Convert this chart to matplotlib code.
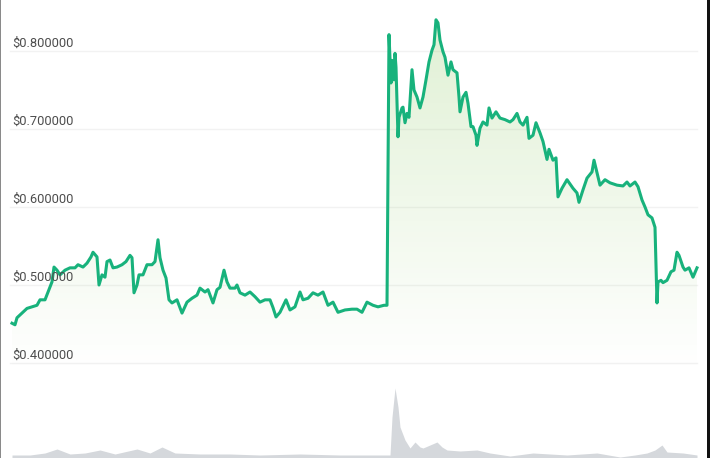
import numpy as np
import matplotlib
matplotlib.use("Agg")
import matplotlib.pyplot as plt
from matplotlib.patches import Polygon, Rectangle

# price series (t = time index, price in USD)
t = [0, 3, 5, 10, 15, 20, 25, 28, 33, 36, 40, 42, 45, 48, 53, 58, 63, 66, 71, 75,
     79, 81, 85, 87, 90, 93, 95, 98, 101, 105, 110, 114, 118, 120, 122, 125, 127, 131,
     135, 140, 143, 146, 148, 151, 154, 157, 160, 165, 170, 175, 180, 185, 188, 193,
     196, 201, 205, 208, 212, 215, 218, 223, 225, 228, 233, 238, 243, 248, 253, 258,
     261, 264, 268, 274, 278, 283, 288, 291, 296, 301, 306, 311, 316, 321, 326, 333,
     340, 345, 350, 355, 361, 366, 372, 375, 377, 379, 380, 382, 383, 384, 386, 387,
     390, 391, 393, 395, 397, 400, 402, 405, 408, 411, 414, 417, 420, 422, 424, 426,
     428, 431, 433, 436, 439, 441, 445, 447, 448, 451, 454, 456, 459, 461, 464, 465,
     468, 471, 475, 477, 480, 484, 488, 493, 498, 501, 505, 508, 511, 515, 517, 521,
     524, 528, 531, 535, 537, 541, 544, 546, 550, 555, 561, 565, 567, 571, 575, 580,
     582, 585, 588, 593, 598, 605, 611, 615, 618, 623, 626, 630, 633, 636, 640, 643,
     644, 645, 646, 649, 651, 655, 659, 662, 665, 667, 671, 673, 677, 681, 685]
price = [0.451, 0.449, 0.458, 0.464, 0.470, 0.472, 0.474, 0.481, 0.481, 0.491, 0.504,
         0.523, 0.519, 0.513, 0.519, 0.522, 0.522, 0.526, 0.523, 0.528, 0.536, 0.542,
         0.536, 0.500, 0.513, 0.510, 0.530, 0.532, 0.522, 0.523, 0.526, 0.530, 0.538,
         0.535, 0.490, 0.500, 0.513, 0.513, 0.526, 0.526, 0.530, 0.558, 0.535, 0.519,
         0.509, 0.481, 0.477, 0.481, 0.464, 0.478, 0.483, 0.487, 0.496, 0.491, 0.494,
         0.477, 0.494, 0.497, 0.519, 0.504, 0.496, 0.496, 0.500, 0.490, 0.487, 0.491,
         0.485, 0.478, 0.481, 0.481, 0.471, 0.459, 0.465, 0.481, 0.468, 0.472, 0.491,
         0.481, 0.483, 0.490, 0.487, 0.491, 0.474, 0.478, 0.465, 0.468, 0.469, 0.469,
         0.465, 0.478, 0.474, 0.472, 0.474, 0.474, 0.821, 0.759, 0.788, 0.763, 0.797,
         0.779, 0.690, 0.715, 0.727, 0.728, 0.708, 0.720, 0.715, 0.776, 0.750, 0.741,
         0.727, 0.741, 0.763, 0.786, 0.801, 0.808, 0.840, 0.836, 0.814, 0.799, 0.792,
         0.769, 0.786, 0.776, 0.772, 0.741, 0.722, 0.741, 0.747, 0.733, 0.703, 0.703,
         0.692, 0.679, 0.701, 0.709, 0.705, 0.727, 0.714, 0.722, 0.714, 0.712, 0.709,
         0.712, 0.720, 0.709, 0.705, 0.715, 0.688, 0.692, 0.708, 0.695, 0.684, 0.661,
         0.674, 0.660, 0.663, 0.613, 0.624, 0.635, 0.624, 0.618, 0.606, 0.622, 0.637,
         0.645, 0.660, 0.644, 0.628, 0.635, 0.631, 0.628, 0.627, 0.632, 0.627, 0.632,
         0.626, 0.609, 0.600, 0.590, 0.586, 0.574, 0.523, 0.477, 0.504, 0.506, 0.503,
         0.506, 0.517, 0.519, 0.542, 0.538, 0.523, 0.519, 0.522, 0.510, 0.522]

# trading volume (relative units)
vol_t = [0, 18, 33, 45, 58, 73, 88, 103, 125, 138, 150, 163, 188, 218, 248, 288, 328,
         358, 374, 378, 380, 383, 386, 388, 393, 398, 403, 408, 411, 418, 425, 430, 435,
         448, 465, 478, 498, 521, 538, 555, 585, 608, 623, 635, 643, 650, 655, 671, 685]
volume = [2, 2, 4, 8, 3, 4, 7, 3, 8, 4, 10, 4, 3, 3, 2, 3, 2, 2, 2, 2, 40, 69, 50, 30,
          17, 9, 15, 10, 9, 12, 15, 10, 7, 6, 7, 4, 1, 4, 3, 2, 4, 0, 2, 4, 7, 12, 5,
          4, 2]

yticks = [0.4, 0.5, 0.6, 0.7, 0.8]
ytick_labels = ["$0.400000", "$0.500000", "$0.600000", "$0.700000", "$0.800000"]

green = "#18b27c"
W, H = 710, 458

fig = plt.figure(figsize=(W / 100, H / 100), dpi=100)
fig.patch.set_facecolor("white")

# volume axes at bottom
axv = fig.add_axes([0, 0, 1, 100 / H])
axv.set_xlim(-12, 698)
axv.set_ylim(-1, 99)
axv.fill_between(vol_t, volume, -1, color="#d5d8dc", lw=0)
axv.axis("off")

# price axes
ax = fig.add_axes([0, 0, 1, 1])
ax.patch.set_alpha(0)
ax.set_xlim(-12, 698)
ax.set_ylim(0.8 - (H - 51) / 780, 0.8 + 51 / 780)
ax.axis("off")

for v, lab in zip(yticks, ytick_labels):
    ax.axhline(v, xmin=10 / W, xmax=697 / W, color="#f2f2f2", lw=1, zorder=1)
    ax.text(0, v + 0.0012, lab, fontsize=9.3, color="#4d4d4d", family="Roboto",
            ha="left", va="bottom", zorder=5)

# gradient fill under the line
base = 0.39
top = 0.845
grad = np.zeros((256, 1, 4))
grad[:, 0, 0] = 0.55
grad[:, 0, 1] = 0.79
grad[:, 0, 2] = 0.38
grad[:, 0, 3] = np.linspace(0.27, 0.0, 256)
im = ax.imshow(grad, aspect="auto", extent=(t[0], t[-1], base, top),
               origin="upper", zorder=2, interpolation="bilinear")
verts = [(t[0], base)] + list(zip(t, price)) + [(t[-1], base)]
clip = Polygon(verts, closed=True, transform=ax.transData, facecolor="none",
               edgecolor="none")
ax.add_patch(clip)
im.set_clip_path(clip)

ax.plot(t, price, color=green, lw=2.2, solid_joinstyle="round", zorder=4)

# screenshot borders
fig.add_artist(Rectangle((0, 0), 1.5 / W, 1, transform=fig.transFigure,
                         color="#8a8a8a", lw=0))
fig.add_artist(Rectangle((707 / W, 0), 3 / W, 1, transform=fig.transFigure,
                         color="#111111", lw=0))

fig.savefig("out.png", dpi=100)
